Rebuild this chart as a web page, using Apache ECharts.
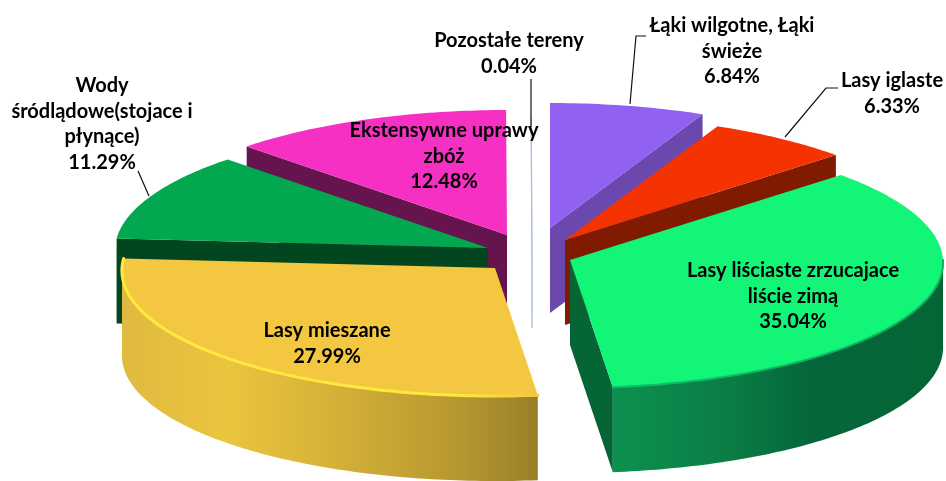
<!DOCTYPE html>
<html>
<head>
<meta charset="utf-8">
<style>html,body{margin:0;padding:0;background:#fff}#c{width:946px;height:481px}</style>
<script src="https://cdn.jsdelivr.net/npm/echarts@6/dist/echarts.min.js"></script>
</head>
<body>
<div id="c"></div>
<script>
// Data, clockwise from 12 o'clock
const categories = ['Łąki wilgotne, Łąki\nświeże', 'Lasy iglaste', 'Lasy liściaste zrzucajace\nliście zimą', 'Lasy mieszane', 'Wody\nśródlądowe(stojace i\npłynące)', 'Ekstensywne uprawy\nzbóż', 'Pozostałe tereny'];
const shares = [6.84, 6.33, 35.04, 27.99, 11.29, 12.48, 0.04];

// Styling and layout, same order as the data
const topColors = ['#9161f2', '#f53300', '#12f577', '#f3c73f', '#02a84f', '#f530c3', '#a9bfe0'];
const faceColors = ['#6b48ad', '#801a00', '#056535', '#9c8128', '#01461f', '#66144d', '#a9bfe0'];
const rimStops = [null, null,
  [[0, '#0c914f'], [0.35, '#0a7d45'], [0.6, '#05663a'], [1, '#056535']],
  [[0, '#dfba40'], [0.25, '#ebc53e'], [0.5, '#d6b238'], [0.8, '#b89830'], [1, '#9a7f27']], null, null, null];
const bevelStops = [null, null,
  [[0, '#0fc068'], [1, '#0fb060']],
  [[0, '#ffe93f'], [0.8, '#ffe93f'], [1, '#f3c73f']], null, null, null];
const bevelWidth = [0, 0, 2, 3, 0, 0, 0];
const explodeX = [20, 35, 40, -35, -42, -23, 2];
const explodeY = [-22, -10, 10, 18, -2, -15, -7];
const paintOrder = [3, 4, 6, 7, 2, 1, 0];
const labelX = [732, 892, 793, 327, 102, 444, 509];
const labelY = [26, 81, 271, 331, 86, 131, 41];
const leaders = [
  [[646, 36], [636, 36], [630, 104]],
  [[838, 88], [826, 88], [785, 137]],
  null, null,
  [[138, 171], [149, 196]],
  null,
  [[531, 79], [531, 127]]
];
const centerX = 530, centerY = 250, radiusX = 373, radiusY = 126.5, depth = 85;
const perspectiveX = 0.02, perspectiveY = 0.012;
const lineHeight = 25.5;
const font = 'bold 20px Lato';

const total = shares.reduce((a, b) => a + b, 0);
const starts = [];
shares.reduce((acc, v, i) => { starts[i] = acc; return acc + v; }, 0);

function rim(cx, cy, t) {
  const c = Math.cos(t);
  return [cx + radiusX * (1 - perspectiveX * c) * Math.sin(t), cy - radiusY * (1 - perspectiveY * c) * c];
}
function arc(cx, cy, t0, t1) {
  const pts = [], n = Math.max(2, Math.ceil(Math.abs(t1 - t0) * 60));
  for (let i = 0; i <= n; i++) pts.push(rim(cx, cy, t0 + (t1 - t0) * i / n));
  return pts;
}
const down = (pts) => pts.map(p => [p[0], p[1] + depth]);
const hGradient = (stops) => ({ type: 'linear', x: 0, y: 0, x2: 1, y2: 0,
  colorStops: stops.map(s => ({ offset: s[0], color: s[1] })) });

function renderSlice(params, api) {
  const i = params.dataIndex;
  const value = api.value(0);
  const t0 = starts[i] / total * 2 * Math.PI;
  const t1 = (starts[i] + value) / total * 2 * Math.PI;
  const cx = centerX + explodeX[i], cy = centerY + explodeY[i];
  const z = paintOrder[i] * 10;
  const children = [];
  const apex = [cx, cy];

  const cutFace = (t) => {
    const e = rim(cx, cy, t);
    children.push({ type: 'polygon', z2: z, silent: true,
      shape: { points: [apex, e, [e[0], e[1] + depth], [cx, cy + depth]] },
      style: { fill: faceColors[i] } });
  };
  if (t1 < Math.PI) cutFace(t1);
  if (t0 > Math.PI) cutFace(t0);

  const r0 = Math.max(t0, Math.PI / 2), r1 = Math.min(t1, 1.5 * Math.PI);
  if (r1 > r0 && rimStops[i]) {
    const a = arc(cx, cy, r0, r1);
    children.push({ type: 'polygon', z2: z + 1, silent: true,
      shape: { points: a.concat(down(a).reverse()) },
      style: { fill: hGradient(rimStops[i]) } });
  }
  if (value < 0.5) {
    const e = rim(cx, cy, t0);
    children.push({ type: 'polyline', z2: z + 2, silent: true,
      shape: { points: [e, apex, [cx, cy + depth]] },
      style: { stroke: topColors[i], lineWidth: 1.4, fill: null } });
  } else {
    children.push({ type: 'polygon', z2: z + 2, silent: true,
      shape: { points: [apex].concat(arc(cx, cy, t0, t1)) },
      style: { fill: topColors[i] } });
  }
  if (bevelStops[i] && r1 > r0) {
    children.push({ type: 'polyline', z2: z + 3, silent: true,
      shape: { points: arc(cx, cy, r0, t1 > 1.5 * Math.PI ? t1 : r1) },
      style: { stroke: hGradient(bevelStops[i]), lineWidth: bevelWidth[i], fill: null, lineCap: 'round' } });
  }
  if (leaders[i]) {
    children.push({ type: 'polyline', z2: 200, silent: true,
      shape: { points: leaders[i] },
      style: { stroke: i === 6 ? '#404040' : '#111', lineWidth: i === 6 ? 1.5 : 1.2, fill: null } });
  }
  children.push({ type: 'text', z2: 300, silent: true,
    style: { x: labelX[i], y: labelY[i] - lineHeight / 2,
      text: categories[i] + '\n' + value.toFixed(2) + '%',
      font: font, fill: '#000', align: 'center', verticalAlign: 'top', lineHeight: lineHeight } });
  return { type: 'group', children: children };
}

const chart = echarts.init(document.getElementById('c'), null, { renderer: 'canvas' });
chart.setOption({
  animation: false,
  backgroundColor: '#fff',
  series: [{
    type: 'custom',
    coordinateSystem: 'none',
    clip: false,
    renderItem: renderSlice,
    data: shares.map((v, i) => ({ name: categories[i], value: [v] }))
  }]
});
</script>
</body>
</html>
